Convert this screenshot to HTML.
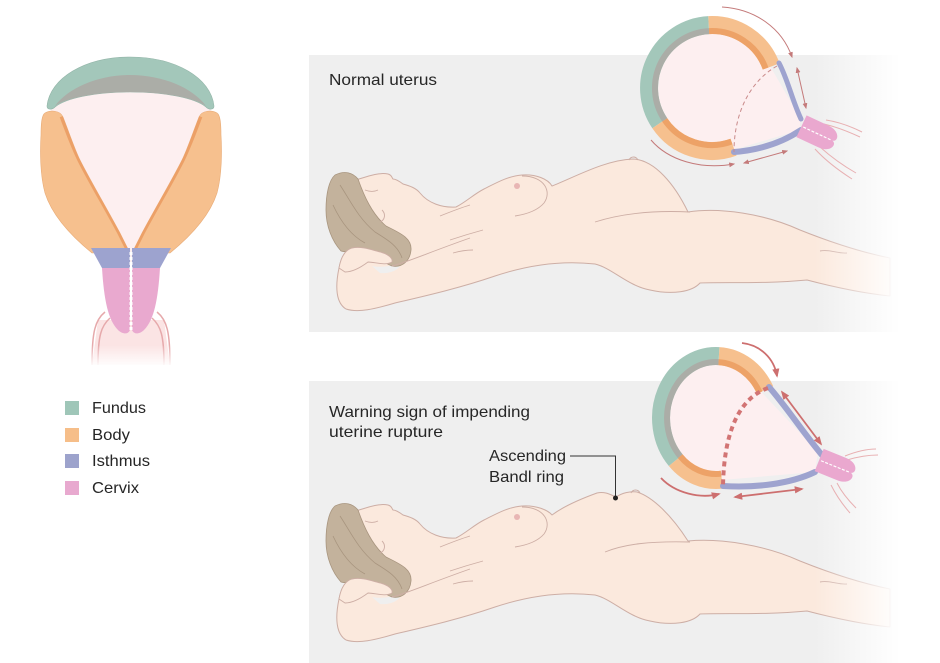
<!DOCTYPE html>
<html><head><meta charset="utf-8">
<style>
html,body{margin:0;padding:0;background:#fff;}
svg{display:block;}
text{font-family:"Liberation Sans",sans-serif;fill:#262626;}
</style></head>
<body>
<svg width="940" height="663" viewBox="0 0 940 663" xmlns="http://www.w3.org/2000/svg">
<defs>
  <linearGradient id="fade" x1="0" y1="0" x2="1" y2="0">
    <stop offset="0" stop-color="#fff" stop-opacity="0"/>
    <stop offset="1" stop-color="#fff" stop-opacity="1"/>
  </linearGradient>
  <linearGradient id="vfade" x1="0" y1="0" x2="0" y2="1">
    <stop offset="0" stop-color="#fff" stop-opacity="0"/>
    <stop offset="1" stop-color="#fff" stop-opacity="1"/>
  </linearGradient>
  <marker id="ah1" viewBox="0 0 10 10" refX="8" refY="5" markerUnits="userSpaceOnUse" markerWidth="6" markerHeight="6" orient="auto-start-reverse">
    <path d="M0,1 L10,5 L0,9 Z" fill="#c47a7a"/>
  </marker>
  <marker id="ah2" viewBox="0 0 10 10" refX="8" refY="5" markerUnits="userSpaceOnUse" markerWidth="9" markerHeight="9" orient="auto-start-reverse">
    <path d="M0,1 L10,5 L0,9 Z" fill="#cd6f6f"/>
  </marker>
  <clipPath id="lbody"><path d="M45,113 C50,110 60,110 63,117 C70,135 75,150 80,160 C90,180 105,205 120,233 L130,253 L92,253 C70,235 52,215 45,193 C40,175 40,150 41,135 C41,122 42,115 45,113 Z"/></clipPath>
  <clipPath id="rbody"><path d="M217,113 C212,110 202,110 199,117 C192,135 187,150 182,160 C172,180 157,205 142,233 L132,253 L170,253 C192,235 210,215 217,193 C222,175 222,150 221,135 C221,122 220,115 217,113 Z"/></clipPath>
</defs>

<!-- ================= LEFT UTERUS ================= -->
<path d="M98,320 L164,320 L170,365 L92,365 Z" fill="#fbe4e4"/>
<g fill="none" stroke="#e6a9ab" stroke-width="1.5">
  <path d="M105,312 C95,320 92,332 92,365"/>
  <path d="M110,318 C101,326 98,336 98,365"/>
  <path d="M157,312 C167,320 170,332 170,365"/>
  <path d="M152,318 C161,326 164,336 164,365"/>
</g>
<rect x="85" y="345" width="95" height="22" fill="url(#vfade)"/>
<path d="M52,108 C66,98 96,92 130,92 C165,92 195,98 210,108 L215,120 L135,265 L127,265 L47,120 Z" fill="#fdeff0"/>
<path d="M47,106 C50,78 85,57 130,57 C176,57 211,78 214,106 C214,110 209,110 206,107 C195,98 165,92 130,92 C96,92 66,98 55,107 C52,110 47,110 47,106 Z" fill="#a3c7ba" stroke="#93b5a8" stroke-width="0.6"/>
<path d="M55,106 C68,88 98,75 130,75 C163,75 193,88 206,106 C195,98 165,92 130,92 C96,92 66,98 55,106 Z" fill="#abada7"/>
<path d="M45,113 C50,110 60,110 63,117 C70,135 75,150 80,160 C90,180 105,205 120,233 L130,253 L92,253 C70,235 52,215 45,193 C40,175 40,150 41,135 C41,122 42,115 45,113 Z" fill="#f6c08e" stroke="#e9ad79" stroke-width="0.6"/>
<path d="M217,113 C212,110 202,110 199,117 C192,135 187,150 182,160 C172,180 157,205 142,233 L132,253 L170,253 C192,235 210,215 217,193 C222,175 222,150 221,135 C221,122 220,115 217,113 Z" fill="#f6c08e" stroke="#e9ad79" stroke-width="0.6"/>
<path clip-path="url(#lbody)" d="M63,116 C70,135 76,150 81,160 C91,180 106,205 121,233 L131,253" fill="none" stroke="#eca067" stroke-width="7"/>
<path clip-path="url(#rbody)" d="M199,116 C192,135 186,150 181,160 C171,180 156,205 141,233 L131,253" fill="none" stroke="#eca067" stroke-width="7"/>
<path d="M91,248 L130,248 L130,268 L102,268 Z" fill="#9da3cf"/>
<path d="M171,248 L132,248 L132,268 L160,268 Z" fill="#9da3cf"/>
<path d="M102,268 L130,268 L130,330 C128,335 122,334 118,330 C108,320 104,300 102,268 Z" fill="#e9a9cf"/>
<path d="M160,268 L132,268 L132,330 C134,335 140,334 144,330 C154,320 158,300 160,268 Z" fill="#e9a9cf"/>
<line x1="131" y1="252" x2="131" y2="330" stroke="#fff" stroke-width="3" stroke-dasharray="3 2"/>

<!-- legend -->
<rect x="65" y="401" width="14" height="14" fill="#9fc6b8"/>
<rect x="65" y="428" width="14" height="14" fill="#f6be89"/>
<rect x="65" y="454" width="14" height="14" fill="#9da3cc"/>
<rect x="65" y="481" width="14" height="14" fill="#e8a9cf"/>
<text x="92" y="413" font-size="16" textLength="54" lengthAdjust="spacingAndGlyphs" fill="#333">Fundus</text>
<text x="92" y="440" font-size="16" textLength="38" lengthAdjust="spacingAndGlyphs" fill="#333">Body</text>
<text x="92" y="466" font-size="16" textLength="58" lengthAdjust="spacingAndGlyphs" fill="#333">Isthmus</text>
<text x="92" y="493" font-size="16" textLength="47" lengthAdjust="spacingAndGlyphs" fill="#333">Cervix</text>

<!-- ================= PANELS ================= -->
<rect x="309" y="55" width="631" height="277" fill="#efefef"/>
<rect x="309" y="381" width="631" height="282" fill="#efefef"/>

<!-- ================= TOP FIGURE ================= -->
<g stroke-linejoin="round">
  <path d="M356,180 C366,177 378,172 388,174 C392,175 392,178 393,179 C396,179 399,181 403,184 C410,186 416,188 420,193 C428,203 442,208 456,207 C466,202 474,194 484,189 C496,183 508,176 522,175 C536,174 548,179 552,186 C575,177 605,160 633,159 C655,160 675,185 688,212 C720,207 765,214 800,230 C830,242 860,252 890,258 L890,296 C860,293 830,286 807,280 C765,284 725,282 700,283 C692,292 672,295 650,290 C628,286 612,268 595,264 C560,260 525,266 495,276 C460,288 425,296 395,303 C375,309 358,313 346,309 C336,303 335,287 339,268 C341,257 345,250 352,248 L356,180 Z" fill="#fbe9dd" stroke="#cdaea5" stroke-width="1"/>
  <path d="M372,266 C382,268 392,266 402,262 C400,270 390,274 380,273 Z" fill="#efefef"/>
  <path d="M335,175 C345,170 353,173 358,179 C364,196 372,214 386,226 C400,233 412,238 411,250 C410,261 402,268 392,266 C384,263 377,257 367,253 C357,251 348,253 341,251 C332,241 326,226 326,210 C326,194 329,180 335,175 Z" fill="#c3b29c" stroke="#a8957f" stroke-width="0.8"/>
  <g fill="none" stroke="#a8957f" stroke-width="0.8">
    <path d="M340,185 C350,200 358,218 375,232 C388,240 398,246 402,258"/>
    <path d="M333,205 C340,220 350,235 365,243"/>
  </g>
  <path d="M339,268 C341,257 345,250 352,248 C362,246 372,250 380,252 C388,254 393,258 392,262 C385,266 375,262 368,262 C360,268 352,272 345,272 Z" fill="#fbe9dd" stroke="#cdaea5" stroke-width="0.9"/>
  <g fill="none" stroke="#cdaea5" stroke-width="0.9">
    <path d="M392,266 C405,263 430,252 470,238"/>
    <path d="M522,176 C545,176 552,192 544,203 C538,210 528,214 515,216"/>
    <path d="M450,240 C462,236 472,233 483,230"/>
    <path d="M453,253 C460,251 466,250 473,250"/>
    <path d="M440,216 C450,212 460,208 470,205"/>
    <path d="M595,222 C620,214 650,210 690,212"/>
    <path d="M820,251 C830,249 838,254 847,253"/>
    <path d="M365,190 C370,192 374,192 378,190"/>
    <path d="M382,210 C386,214 385,220 380,222"/>
    <path d="M629,160 C631,156 636,156 638,160"/>
  </g>
  <circle cx="517" cy="186" r="3" fill="#e8b6b4"/>
</g>

<!-- ================= BOTTOM FIGURE ================= -->
<g transform="translate(0,331)" stroke-linejoin="round">
  <path d="M356,180 C366,177 378,172 388,174 C392,175 392,178 393,179 C396,179 399,181 403,184 C410,186 416,188 420,193 C428,203 442,208 456,207 C466,202 474,194 484,189 C496,183 508,176 522,175 C536,174 548,179 552,184 C560,178 575,170 597,162 C605,160 611,164 616,166 C622,162 630,160 637,161 C653,166 672,185 688,210 C720,207 765,214 800,230 C830,242 860,252 890,258 L890,296 C860,293 830,286 807,280 C765,284 725,282 700,283 C692,292 672,295 650,290 C628,286 612,268 595,264 C560,260 525,266 495,276 C460,288 425,296 395,303 C375,309 358,313 346,309 C336,303 335,287 339,268 C341,257 345,250 352,248 L356,180 Z" fill="#fbe9dd" stroke="#cdaea5" stroke-width="1"/>
  <path d="M372,266 C382,268 392,266 402,262 C400,270 390,274 380,273 Z" fill="#efefef"/>
  <path d="M335,175 C345,170 353,173 358,179 C364,196 372,214 386,226 C400,233 412,238 411,250 C410,261 402,268 392,266 C384,263 377,257 367,253 C357,251 348,253 341,251 C332,241 326,226 326,210 C326,194 329,180 335,175 Z" fill="#c3b29c" stroke="#a8957f" stroke-width="0.8"/>
  <g fill="none" stroke="#a8957f" stroke-width="0.8">
    <path d="M340,185 C350,200 358,218 375,232 C388,240 398,246 402,258"/>
    <path d="M333,205 C340,220 350,235 365,243"/>
  </g>
  <path d="M339,268 C341,257 345,250 352,248 C362,246 372,250 380,252 C388,254 393,258 392,262 C385,266 375,262 368,262 C360,268 352,272 345,272 Z" fill="#fbe9dd" stroke="#cdaea5" stroke-width="0.9"/>
  <g fill="none" stroke="#cdaea5" stroke-width="0.9">
    <path d="M392,266 C405,263 430,252 470,238"/>
    <path d="M522,176 C545,176 552,192 544,203 C538,210 528,214 515,216"/>
    <path d="M450,240 C462,236 472,233 483,230"/>
    <path d="M453,253 C460,251 466,250 473,250"/>
    <path d="M440,216 C450,212 460,208 470,205"/>
    <path d="M605,221 C625,213 650,210 690,211"/>
    <path d="M820,251 C830,249 838,254 847,253"/>
    <path d="M365,190 C370,192 374,192 378,190"/>
    <path d="M382,210 C386,214 385,220 380,222"/>
    <path d="M631,162 C633,158 638,158 640,162"/>
  </g>
  <circle cx="517" cy="186" r="3" fill="#e8b6b4"/>
</g>

<!-- fade panels to white at right -->
<rect x="815" y="55" width="85" height="608" fill="url(#fade)"/>
<rect x="900" y="55" width="40" height="608" fill="#fff"/>

<!-- ================= TOP UTERUS ================= -->
<g>
  <g fill="none" stroke="#e8b0b2" stroke-width="1">
    <path d="M824,124 C837,127 847,131 860,137"/>
    <path d="M826,120 C839,122 850,126 862,132"/>
    <path d="M815,149 C825,160 838,170 852,179"/>
    <path d="M820,147 C830,156 842,165 856,173"/>
  </g>
  <circle cx="712" cy="88" r="56" fill="#fdeff0"/>
  <path d="M762,52 L800,118 L800,130 L733,150 L712,88 Z" fill="#fdeff0"/>
  <g fill="none" stroke-width="18">
    <path d="M771.2,66.5 A63 63 0 0 0 708.7,25.1" stroke="#f6c08e"/>
    <path d="M708.7,25.1 A63 63 0 0 0 659.8,123.2" stroke="#a3c7ba"/>
    <path d="M659.8,123.2 A63 63 0 0 0 733.5,147.2" stroke="#f6c08e"/>
  </g>
  <g fill="none" stroke-width="6">
    <path d="M765.6,68.5 A57 57 0 0 0 709.0,31.1" stroke="#eda267"/>
    <path d="M709.0,31.1 A57 57 0 0 0 664.7,119.9" stroke="#abada7"/>
    <path d="M664.7,119.9 A57 57 0 0 0 731.5,141.6" stroke="#eda267"/>
  </g>
  <g fill="none" stroke="#9ea3cf" stroke-linecap="round">
    <path d="M779,63 C788,80 792,100 801,119" stroke-width="5"/>
    <path d="M734,152 C760,150 783,142 801,130" stroke-width="6"/>
  </g>
  <g transform="translate(816,133) rotate(25)">
    <path d="M-16,-12 L8,-12 C22,-12 24,-1 18,0 C24,1 22,12 8,12 L-16,12 Z" fill="#eaa8cf"/>
    <path d="M-14,0 L17,0" stroke="#fff" stroke-width="1.2" stroke-dasharray="3 1.5"/>
  </g>
  <path d="M777,66 C752,80 734,110 734,152" fill="none" stroke="#c98a8a" stroke-width="1" stroke-dasharray="4 3"/>
  <g fill="none" stroke="#c47a7a" stroke-width="1">
    <path d="M722,7 C755,9 782,28 792,57" marker-end="url(#ah1)"/>
    <path d="M797,68 L806,108" marker-start="url(#ah1)" marker-end="url(#ah1)"/>
    <path d="M651,140 C668,160 700,170 734,164" marker-end="url(#ah1)"/>
    <path d="M744,163 L787,151" marker-start="url(#ah1)" marker-end="url(#ah1)"/>
  </g>
</g>

<!-- ================= BOTTOM UTERUS ================= -->
<g>
  <g fill="none" stroke="#e8b0b2" stroke-width="1">
    <path d="M847,460 C857,457 867,455 878,455"/>
    <path d="M845,456 C855,452 865,449 876,449"/>
    <path d="M831,485 C836,495 843,505 850,513"/>
    <path d="M837,483 C842,493 849,501 856,508"/>
  </g>
  <ellipse cx="716" cy="418" rx="48" ry="55" fill="#fdeff0"/>
  <path d="M750,380 L818,452 L815,472 L722,480 L716,418 Z" fill="#fdeff0"/>
  <g fill="none" stroke-width="18">
    <path d="M765.0,389.9 A55 62 0 0 0 718.9,356.1" stroke="#f6c08e"/>
    <path d="M718.9,356.1 A55 62 0 0 0 675.8,460.3" stroke="#a3c7ba"/>
    <path d="M675.8,460.3 A55 62 0 0 0 721.8,479.7" stroke="#f6c08e"/>
  </g>
  <g fill="none" stroke-width="6">
    <path d="M759.7,392.6 A49 56 0 0 0 718.5,362.1" stroke="#eda267"/>
    <path d="M718.5,362.1 A49 56 0 0 0 680.2,456.2" stroke="#abada7"/>
    <path d="M680.2,456.2 A49 56 0 0 0 721.1,473.7" stroke="#eda267"/>
  </g>
  <g fill="none" stroke="#9ea3cf" stroke-width="6" stroke-linecap="round">
    <path d="M769,387 C785,405 805,435 822,455"/>
    <path d="M723,486 C755,488 790,484 815,472"/>
  </g>
  <g transform="translate(834,466) rotate(22)">
    <path d="M-16,-12 L8,-12 C22,-12 24,-1 18,0 C24,1 22,12 8,12 L-16,12 Z" fill="#eaa8cf"/>
    <path d="M-14,0 L17,0" stroke="#fff" stroke-width="1.2" stroke-dasharray="3 1.5"/>
  </g>
  <path d="M768,388 C740,398 724,430 723,486" fill="none" stroke="#d27474" stroke-width="4" stroke-dasharray="5 4"/>
  <g fill="none" stroke="#cd6f6f" stroke-width="1.8">
    <path d="M742,343 C760,345 774,358 777,376" marker-end="url(#ah2)"/>
    <path d="M782,392 L821,444" marker-start="url(#ah2)" marker-end="url(#ah2)"/>
    <path d="M661,478 C675,493 700,499 719,494" marker-end="url(#ah2)"/>
    <path d="M735,497 L802,489" marker-start="url(#ah2)" marker-end="url(#ah2)"/>
  </g>
</g>

<!-- ================= TEXT ================= -->
<text x="329" y="85" font-size="16" textLength="108" lengthAdjust="spacingAndGlyphs">Normal uterus</text>
<text x="329" y="417" font-size="16" textLength="201" lengthAdjust="spacingAndGlyphs">Warning sign of impending</text>
<text x="329" y="437" font-size="16" textLength="114" lengthAdjust="spacingAndGlyphs">uterine rupture</text>
<text x="489" y="461" font-size="16" textLength="77" lengthAdjust="spacingAndGlyphs" fill="#3a3a3a">Ascending</text>
<text x="489" y="482" font-size="16" textLength="75" lengthAdjust="spacingAndGlyphs" fill="#3a3a3a">Bandl ring</text>
<path d="M570,456 L615.5,456 L615.5,498" fill="none" stroke="#333" stroke-width="1"/>
<circle cx="615.5" cy="498" r="2.5" fill="#222"/>
</svg>
</body></html>
